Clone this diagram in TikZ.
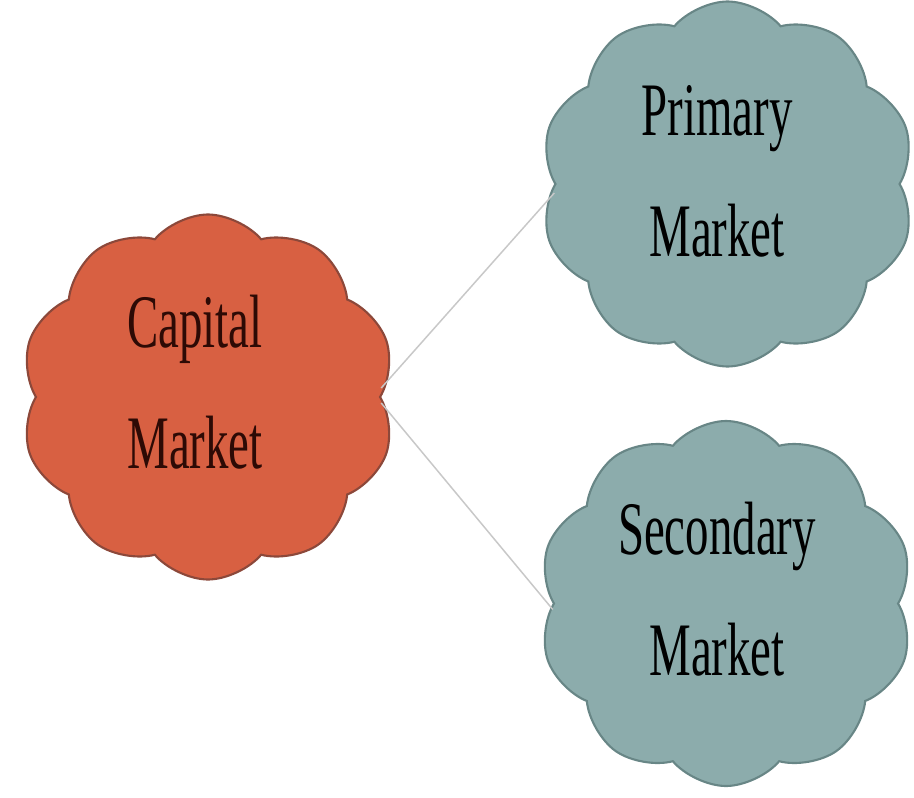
\documentclass[tikz,border=0pt]{standalone}
\usepackage{fontspec}
\usepackage{tikz}
\usetikzlibrary{shapes}
\newfontfamily\cloudfont[FakeStretch=0.62]{Liberation Serif}
\definecolor{capfill}{RGB}{216,96,66}
\definecolor{capline}{RGB}{140,72,58}
\definecolor{capink}{RGB}{45,10,5}
\definecolor{mktfill}{RGB}{140,172,172}
\definecolor{mktline}{RGB}{104,134,134}
\definecolor{linkgray}{RGB}{200,200,200}

\begin{document}
\begin{tikzpicture}
    \tikzstyle{puff}=[cloud, cloud puffs=10, cloud puff arc=100, cloud ignores aspect,
      minimum width=7.5cm, minimum height=7.3cm, inner sep=0pt, line width=1.2pt]
    \tikzstyle{capcloud}=[puff, fill=capfill, draw=capline]
    \tikzstyle{mktcloud}=[puff, fill=mktfill, draw=mktline]
    \tikzstyle{cloudtext}=[align=center, inner sep=0pt, font=\cloudfont\fontsize{43}{69}\selectfont]
    \tikzstyle{link}=[draw=linkgray, line width=0.85pt]
    \useasboundingbox (0,0) rectangle (18.28,-15.94);
    \node[capcloud] (capital) at (4.16,-7.94) {};
    \node[mktcloud] (primary) at (14.55,-3.68) {};
    \node[mktcloud] (secondary) at (14.52,-12.07) {};
    \node[cloudtext, text=capink] (capitaltext) at ([xshift=-0.26cm,yshift=0.30cm]capital.center) {Capital\\Market};
    \node[cloudtext] (primarytext) at ([xshift=-0.21cm,yshift=0.26cm]primary.center) {Primary\\Market};
    \node[cloudtext] (secondarytext) at ([xshift=-0.18cm,yshift=0.29cm]secondary.center) {Secondary\\Market};
    \draw[link] ([yshift=0.18cm]capital.east) -- ([yshift=-0.18cm]primary.west);
    \draw[link] ([yshift=-0.12cm]capital.east) -- ([yshift=-0.12cm]secondary.west);
  \end{tikzpicture}
\end{document}
